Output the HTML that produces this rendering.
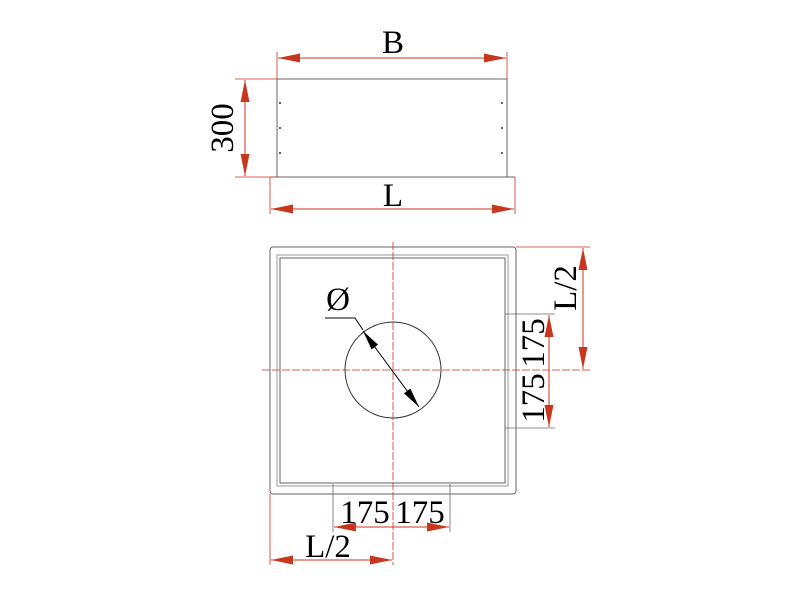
<!DOCTYPE html>
<html><head><style>body{margin:0;background:#fff}svg{display:block}</style></head><body>
<svg width="800" height="600" viewBox="0 0 800 600" xmlns="http://www.w3.org/2000/svg" font-family="Liberation Serif, serif">
<defs>
<marker id="r" viewBox="0 0 22 9" refX="22" refY="4.5" markerWidth="22" markerHeight="9" markerUnits="userSpaceOnUse" orient="auto-start-reverse"><path d="M0,0L22,4.5L0,9z" fill="#c8371d"/></marker>
<marker id="k" viewBox="0 0 20 8" refX="20" refY="4" markerWidth="20" markerHeight="8" markerUnits="userSpaceOnUse" orient="auto-start-reverse"><path d="M0,0L20,4L0,8z" fill="#000"/></marker>
</defs>
<g stroke="#666" stroke-width="1" fill="none">
<rect x="277" y="79" width="230" height="98"/>
<line x1="270" y1="177" x2="515" y2="177"/>
<rect x="270" y="247" width="246" height="247" rx="3"/>
<rect x="277" y="255" width="231" height="231" stroke="#999"/>
<rect x="280" y="258" width="225" height="225"/>
<circle cx="393" cy="370" r="48" stroke="#333"/>
</g>
<g fill="#333">
<circle cx="280" cy="103" r="1"/><circle cx="280" cy="128" r="1"/><circle cx="280" cy="153" r="1"/>
<circle cx="502" cy="103" r="1"/><circle cx="502" cy="128" r="1"/><circle cx="502" cy="153" r="1"/>
</g>
<g stroke="#c8371d" stroke-width="0.8" fill="none">
<line x1="277" y1="52" x2="277" y2="79"/><line x1="507" y1="52" x2="507" y2="79"/>
<line x1="235" y1="79" x2="277" y2="79"/><line x1="235" y1="177" x2="277" y2="177"/>
<line x1="270" y1="177" x2="270" y2="214"/><line x1="515" y1="177" x2="515" y2="214"/>
<line x1="393" y1="242" x2="393" y2="565" stroke-dasharray="8,2"/>
<line x1="262" y1="370" x2="590" y2="370" stroke-dasharray="8,2"/>
<line x1="516" y1="247" x2="590" y2="247"/>
<line x1="505" y1="314" x2="555" y2="314" stroke="#666"/><line x1="505" y1="428" x2="555" y2="428" stroke="#666"/>
<line x1="333" y1="484" x2="333" y2="532" stroke="#666"/><line x1="450" y1="484" x2="450" y2="532" stroke="#666"/>
<line x1="270" y1="494" x2="270" y2="565"/>
</g>
<g stroke="#c8371d" stroke-width="1">
<line x1="278" y1="58" x2="506" y2="58" marker-start="url(#r)" marker-end="url(#r)"/>
<line x1="245" y1="80" x2="245" y2="176" marker-start="url(#r)" marker-end="url(#r)"/>
<line x1="271" y1="209" x2="514" y2="209" marker-start="url(#r)" marker-end="url(#r)"/>
<line x1="583" y1="248" x2="583" y2="369" marker-start="url(#r)" marker-end="url(#r)"/>
<line x1="549" y1="315" x2="549" y2="427" marker-start="url(#r)" marker-end="url(#r)"/>
<line x1="334" y1="527" x2="449" y2="527" marker-start="url(#r)" marker-end="url(#r)"/>
<line x1="271" y1="560" x2="392" y2="560" marker-start="url(#r)" marker-end="url(#r)"/>
</g>
<g stroke="#000" stroke-width="1" fill="none">
<polyline points="325,318 355,318 363,330"/>
<line x1="363" y1="331" x2="419" y2="407" marker-start="url(#k)" marker-end="url(#k)"/>
</g>
<g font-size="33" fill="#000" text-anchor="middle">
<text x="393" y="53">B</text>
<text x="393" y="206">L</text>
<text x="338" y="310">Ø</text>
<text x="365" y="523">175</text>
<text x="420" y="523">175</text>
<text x="328" y="557">L/2</text>
<text transform="translate(233,128) rotate(-90)">300</text>
<text transform="translate(576,288) rotate(-90)">L/2</text>
<text transform="translate(544,343) rotate(-90)">175</text>
<text transform="translate(544,398) rotate(-90)">175</text>
</g>
</svg>
</body></html>
